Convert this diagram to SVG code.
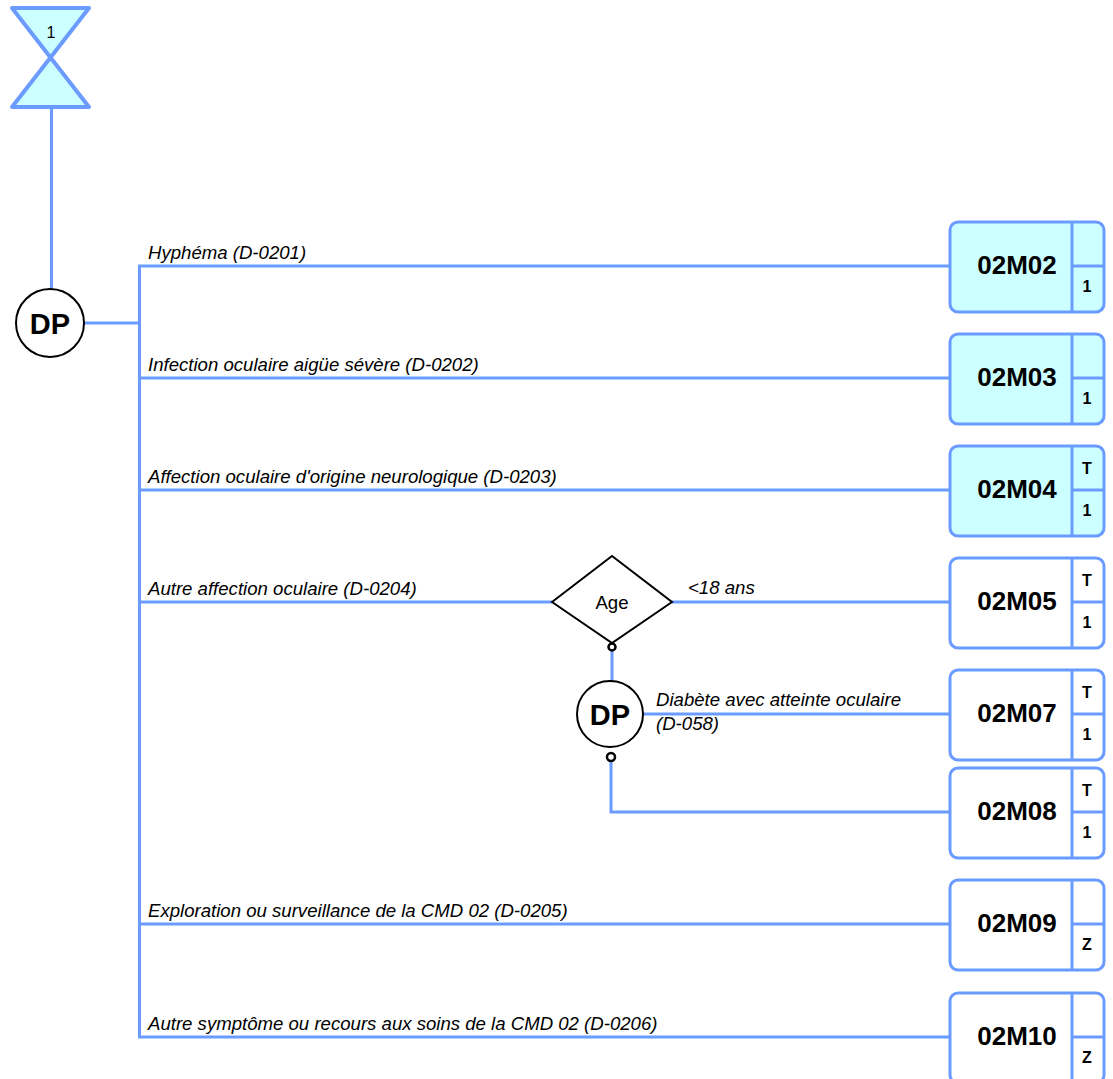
<svg xmlns="http://www.w3.org/2000/svg" width="1113" height="1079" viewBox="0 0 1113 1079">
<style>
.ln{fill:none;stroke:#6b9bff;stroke-width:3}
.lbl{font-family:"Liberation Sans",Arial,sans-serif;font-size:18.6px;font-style:italic;fill:#000}
.bx{stroke:#6b9bff;stroke-width:3}
.cy{fill:#ccffff}
.wh{fill:#ffffff}
.code{font-family:"Liberation Sans",Arial,sans-serif;font-size:26px;font-weight:bold;text-anchor:middle;fill:#000}
.sm{font-family:"Liberation Sans",Arial,sans-serif;font-size:16px;font-weight:bold;text-anchor:middle;fill:#000}
.dp{fill:#fff;stroke:#000;stroke-width:2}
.dpt{font-family:"Liberation Sans",Arial,sans-serif;font-size:29px;font-weight:bold;text-anchor:middle;fill:#000}
.pin{fill:#fff;stroke:#000;stroke-width:2.5}
</style>
<defs>
<g id="box">
<rect x="0" y="0" width="154" height="90" rx="8" ry="8"/>
</g>
</defs>
<g id="connectors">
<line class="ln" x1="51.5" y1="107" x2="51.5" y2="290"/>
<line class="ln" x1="84" y1="323" x2="139.5" y2="323"/>
<line class="ln" x1="139.5" y1="266" x2="139.5" y2="1037"/>
<line class="ln" x1="138" y1="266" x2="950" y2="266"/>
<line class="ln" x1="138" y1="378" x2="950" y2="378"/>
<line class="ln" x1="138" y1="490" x2="950" y2="490"/>
<line class="ln" x1="138" y1="602" x2="552" y2="602"/>
<line class="ln" x1="672" y1="602" x2="950" y2="602"/>
<line class="ln" x1="612" y1="651" x2="612" y2="681"/>
<line class="ln" x1="643" y1="714" x2="950" y2="714"/>
<polyline class="ln" points="611,761 611,812 950,812"/>
<line class="ln" x1="138" y1="924" x2="950" y2="924"/>
<line class="ln" x1="138" y1="1037" x2="950" y2="1037"/>
<text class="lbl" x="148" y="259">Hyphéma (D-0201)</text>
<text class="lbl" x="148" y="371">Infection oculaire aigüe sévère (D-0202)</text>
<text class="lbl" x="148" y="483">Affection oculaire d'origine neurologique (D-0203)</text>
<text class="lbl" x="148" y="595">Autre affection oculaire (D-0204)</text>
<text class="lbl" x="688" y="594">&lt;18 ans</text>
<text class="lbl" x="656" y="706">Diabète avec atteinte oculaire</text>
<text class="lbl" x="656" y="730">(D-058)</text>
<text class="lbl" x="148" y="917">Exploration ou surveillance de la CMD 02 (D-0205)</text>
<text class="lbl" x="148" y="1030">Autre symptôme ou recours aux soins de la CMD 02 (D-0206)</text>
</g>
<g id="start">
<polygon points="12,8 89,8 50.5,57.5" fill="#ccffff" stroke="#6b9bff" stroke-width="4" stroke-linejoin="round"/>
<polygon points="50.5,57.5 12,107 89,107" fill="#ccffff" stroke="#6b9bff" stroke-width="4" stroke-linejoin="round"/>
<text x="51" y="38" font-family="Liberation Sans,Arial,sans-serif" font-size="16" text-anchor="middle">1</text>
</g>
<g id="dp1">
<circle class="dp" cx="50" cy="323" r="34"/>
<text class="dpt" x="50" y="334">DP</text>
</g>
<g id="age">
<polygon points="552,602 612,556 672,602 612,643" fill="#fff" stroke="#000" stroke-width="2" stroke-linejoin="miter"/>
<text x="612" y="609" font-family="Liberation Sans,Arial,sans-serif" font-size="18.6" text-anchor="middle">Age</text>
<circle class="pin" cx="612" cy="647" r="3.5"/>
</g>
<g id="dp2">
<circle class="dp" cx="610" cy="714" r="33"/>
<text class="dpt" x="610" y="725">DP</text>
<circle class="pin" cx="611" cy="757" r="4"/>
</g>
<g id="n02M02" transform="translate(950,222)">
<use href="#box" class="bx cy"/>
<line class="ln" x1="122" y1="0" x2="122" y2="90"/>
<line class="ln" x1="122" y1="44" x2="154" y2="44"/>
<text class="code" x="67" y="52">02M02</text>
<text class="sm" x="137" y="70">1</text>
</g>
<g id="n02M03" transform="translate(950,334)">
<use href="#box" class="bx cy"/>
<line class="ln" x1="122" y1="0" x2="122" y2="90"/>
<line class="ln" x1="122" y1="44" x2="154" y2="44"/>
<text class="code" x="67" y="52">02M03</text>
<text class="sm" x="137" y="70">1</text>
</g>
<g id="n02M04" transform="translate(950,446)">
<use href="#box" class="bx cy"/>
<line class="ln" x1="122" y1="0" x2="122" y2="90"/>
<line class="ln" x1="122" y1="44" x2="154" y2="44"/>
<text class="code" x="67" y="52">02M04</text>
<text class="sm" x="137" y="28">T</text>
<text class="sm" x="137" y="70">1</text>
</g>
<g id="n02M05" transform="translate(950,558)">
<use href="#box" class="bx wh"/>
<line class="ln" x1="122" y1="0" x2="122" y2="90"/>
<line class="ln" x1="122" y1="44" x2="154" y2="44"/>
<text class="code" x="67" y="52">02M05</text>
<text class="sm" x="137" y="28">T</text>
<text class="sm" x="137" y="70">1</text>
</g>
<g id="n02M07" transform="translate(950,670)">
<use href="#box" class="bx wh"/>
<line class="ln" x1="122" y1="0" x2="122" y2="90"/>
<line class="ln" x1="122" y1="44" x2="154" y2="44"/>
<text class="code" x="67" y="52">02M07</text>
<text class="sm" x="137" y="28">T</text>
<text class="sm" x="137" y="70">1</text>
</g>
<g id="n02M08" transform="translate(950,768)">
<use href="#box" class="bx wh"/>
<line class="ln" x1="122" y1="0" x2="122" y2="90"/>
<line class="ln" x1="122" y1="44" x2="154" y2="44"/>
<text class="code" x="67" y="52">02M08</text>
<text class="sm" x="137" y="28">T</text>
<text class="sm" x="137" y="70">1</text>
</g>
<g id="n02M09" transform="translate(950,880)">
<use href="#box" class="bx wh"/>
<line class="ln" x1="122" y1="0" x2="122" y2="90"/>
<line class="ln" x1="122" y1="44" x2="154" y2="44"/>
<text class="code" x="67" y="52">02M09</text>
<text class="sm" x="137" y="70">Z</text>
</g>
<g id="n02M10" transform="translate(950,993)">
<use href="#box" class="bx wh"/>
<line class="ln" x1="122" y1="0" x2="122" y2="90"/>
<line class="ln" x1="122" y1="44" x2="154" y2="44"/>
<text class="code" x="67" y="52">02M10</text>
<text class="sm" x="137" y="70">Z</text>
</g>
</svg>
